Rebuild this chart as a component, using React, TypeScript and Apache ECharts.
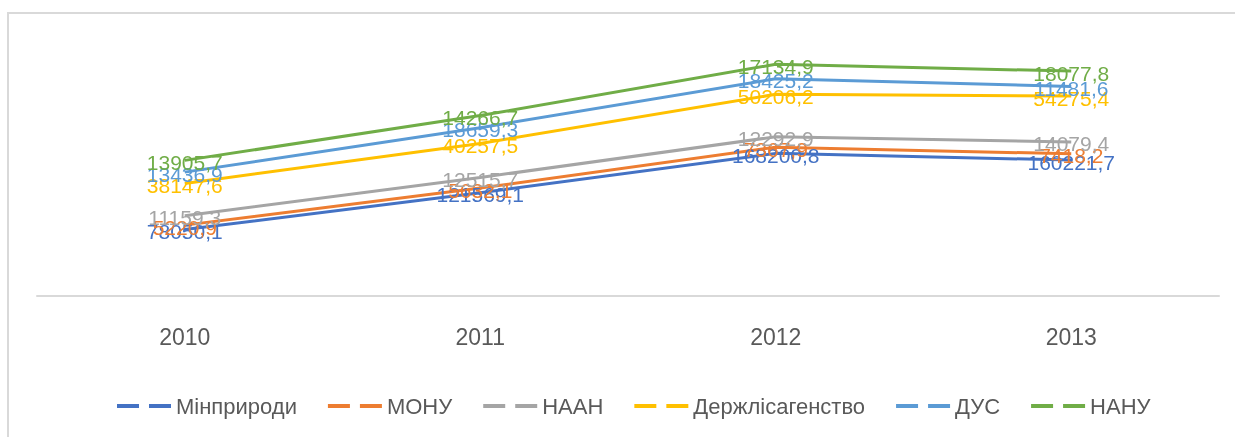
import React, { useEffect, useRef } from "react";
import * as echarts from "echarts";

const years = ["2010", "2011", "2012", "2013"];
const seriesNames = ["Мінприроди", "МОНУ", "НААН", "Держлісагенство", "ДУС", "НАНУ"];
const minpryrody = [78050.1, 121569.1, 168200.8, 160221.7];
const monu = [5220.9, 5632.1, 7367.9, 7418.2];
const naan = [11159.3, 12515.7, 12292.9, 14079.4];
const derzhlis = [38147.6, 40257.5, 50206.2, 54275.4];
const dus = [13436.9, 18659.3, 18425.2, 11481.6];
const nanu = [13905.7, 14266.7, 17134.9, 18077.8];
const colors = ["#4472C4", "#ED7D31", "#A5A5A5", "#FFC000", "#5B9BD5", "#70AD47"];

const FONT = "Liberation Sans";

export default function App() {
  const ref = useRef<HTMLDivElement>(null);
  useEffect(() => {
    if (!ref.current) return;
    const chart = echarts.init(ref.current, null, { renderer: "svg" });
    const all = [minpryrody, monu, naan, derzhlis, dus, nanu];
    chart.setOption({
      animation: false,
      color: colors,
      graphic: [
        {
          type: "rect",
          shape: { x: 8, y: 13, width: 1260, height: 460 },
          style: { fill: "none", stroke: "#d9d9d9", lineWidth: 2 },
          silent: true,
        },
      ],
      grid: { left: 37, right: 16, top: 42, bottom: 141.5 },
      legend: {
        bottom: 15,
        left: 112,
        icon: "path://M0,0H22V4H0Z M32,0H54V4H32Z",
        itemWidth: 54,
        itemHeight: 4,
        itemGap: 31,
        textStyle: { fontFamily: FONT, fontSize: 22, color: "#595959" },
        data: seriesNames,
      },
      xAxis: {
        type: "category",
        data: years,
        boundaryGap: true,
        axisLine: { show: true, lineStyle: { color: "#d9d9d9", width: 2 } },
        axisTick: { show: false },
        axisLabel: { fontFamily: FONT, fontSize: 23, color: "#595959", margin: 30 },
      },
      yAxis: {
        type: "value",
        min: 0,
        max: 300000,
        show: false,
        splitLine: { show: false },
      },
      series: seriesNames.map((name, i) => ({
        name,
        type: "line",
        stack: "total",
        data: all[i],
        symbol: "circle",
        symbolSize: 0,
        lineStyle: { width: 3, color: colors[i] },
        itemStyle: { color: colors[i] },
        label: {
          show: true,
          position: "inside",
          offset: [0, 2],
          fontFamily: FONT,
          fontSize: 21,
          color: colors[i],
          formatter: (p: any) => Number(p.value).toFixed(1).replace(".", ","),
        },
      })),
    });
    return () => chart.dispose();
  }, []);
  return (
    <div
      ref={ref}
      style={{ position: "fixed", left: 0, top: 0, width: 1235, height: 437 }}
    />
  );
}
